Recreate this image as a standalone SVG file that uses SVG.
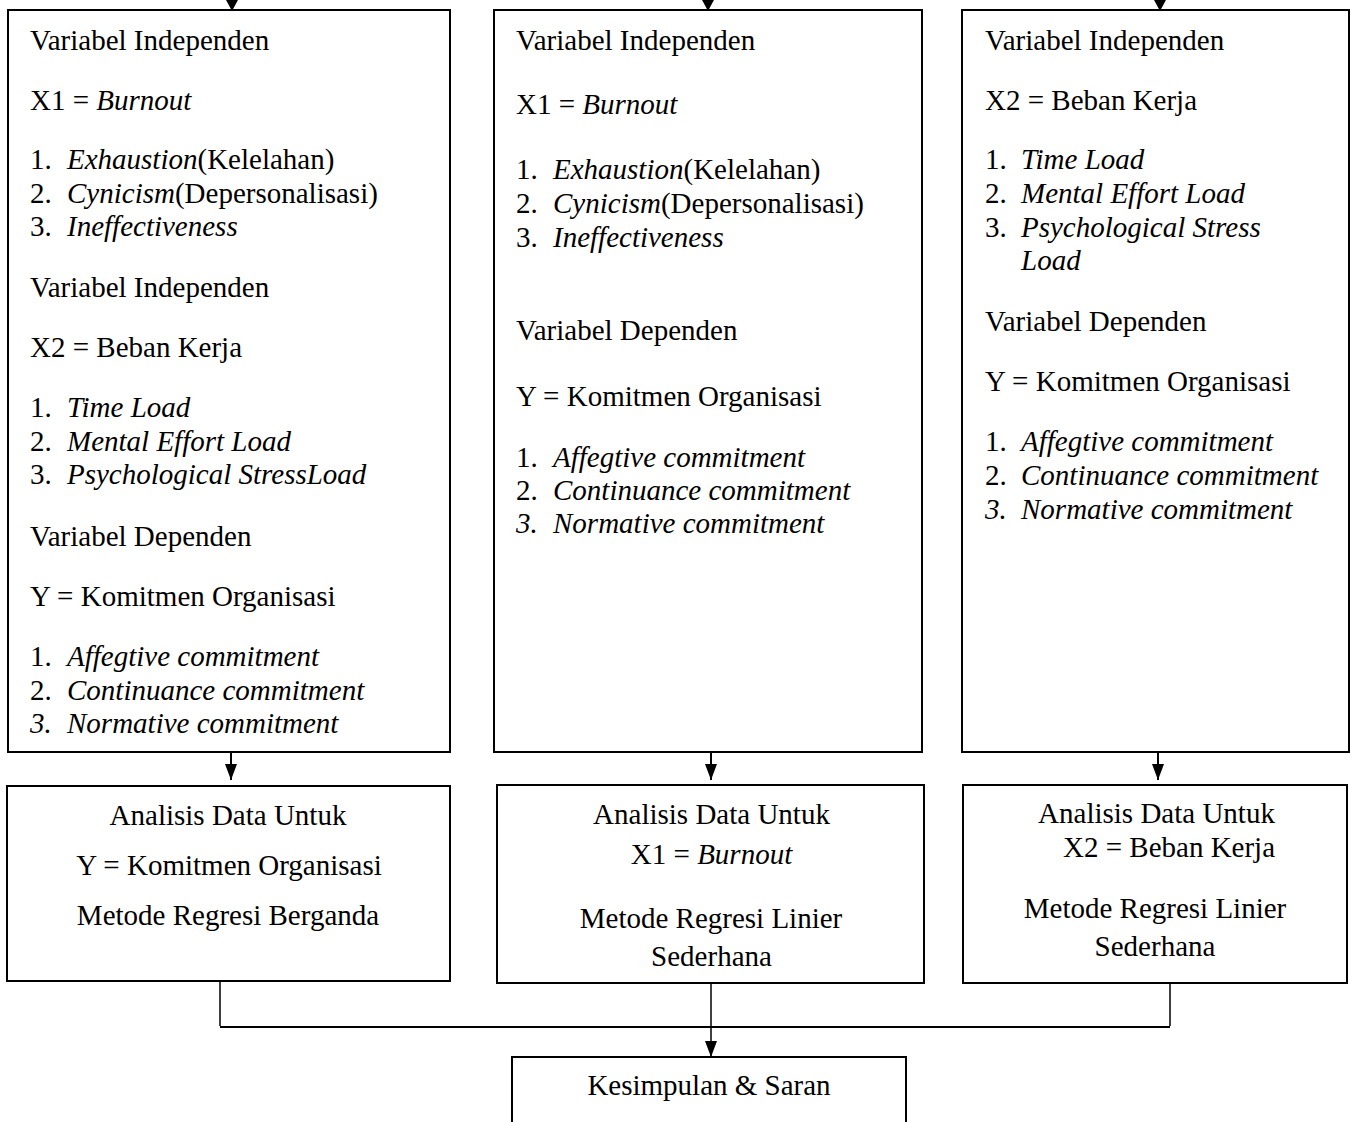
<svg xmlns="http://www.w3.org/2000/svg" width="1352" height="1122" viewBox="0 0 1352 1122">
<defs>
<style>
text{font-family:"Liberation Serif","Times New Roman",serif;font-size:29px;fill:#000}
.i{font-style:italic}
.c{text-anchor:middle}
.box{fill:#fff;stroke:#000;stroke-width:2}
.ln{fill:none;stroke:#000;stroke-width:2}
.thin{fill:none;stroke:#000;stroke-width:1.5}
</style>
<marker id="ah" markerUnits="userSpaceOnUse" markerWidth="16" markerHeight="12" refX="16" refY="6" orient="auto">
<path d="M0,0 L16,6 L0,12 z" fill="#000"/>
</marker>
<marker id="ahs" markerUnits="userSpaceOnUse" markerWidth="12" markerHeight="13" refX="12" refY="6.5" orient="auto">
<path d="M0,0 L12,6.5 L0,13 z" fill="#000"/>
</marker>
</defs>
<rect width="1352" height="1122" fill="#fff"/>

<g id="connectors">
<line class="ln" x1="232" y1="-20" x2="232" y2="11" marker-end="url(#ahs)"/>
<line class="ln" x1="708" y1="-20" x2="708" y2="11" marker-end="url(#ahs)"/>
<line class="ln" x1="1160" y1="-20" x2="1160" y2="11" marker-end="url(#ahs)"/>
<line class="ln" x1="231" y1="752" x2="231" y2="780" marker-end="url(#ah)"/>
<line class="ln" x1="711" y1="752" x2="711" y2="780" marker-end="url(#ah)"/>
<line class="ln" x1="1158" y1="752" x2="1158" y2="780" marker-end="url(#ah)"/>
<line class="thin" x1="220" y1="981" x2="220" y2="1026"/>
<line class="thin" x1="1170" y1="983" x2="1170" y2="1026"/>
<line class="ln" x1="220" y1="1027" x2="1170" y2="1027"/>
<line class="thin" x1="711" y1="983" x2="711" y2="1057" marker-end="url(#ah)"/>
</g>

<g id="box1">
<rect class="box" x="8" y="10" width="442" height="742"/>
<text x="30" y="50">Variabel Independen</text>
<text x="30" y="110">X1 = <tspan class="i">Burnout</tspan></text>
<text x="30" y="169">1.</text><text x="67" y="169"><tspan class="i">Exhaustion</tspan>(Kelelahan)</text>
<text x="30" y="202.5">2.</text><text x="67" y="202.5"><tspan class="i">Cynicism</tspan>(Depersonalisasi)</text>
<text x="30" y="236">3.</text><text class="i" x="67" y="236">Ineffectiveness</text>
<text x="30" y="297">Variabel Independen</text>
<text x="30" y="357">X2 = Beban Kerja</text>
<text x="30" y="417">1.</text><text class="i" x="67" y="417">Time Load</text>
<text x="30" y="451">2.</text><text class="i" x="67" y="451">Mental Effort Load</text>
<text x="30" y="484">3.</text><text class="i" x="67" y="484">Psychological StressLoad</text>
<text x="30" y="546">Variabel Dependen</text>
<text x="30" y="606">Y = Komitmen Organisasi</text>
<text x="30" y="666">1.</text><text class="i" x="67" y="666">Affegtive commitment</text>
<text x="30" y="700">2.</text><text class="i" x="67" y="700">Continuance commitment</text>
<text class="i" x="30" y="733">3.</text><text class="i" x="67" y="733">Normative commitment</text>
</g>

<g id="box2">
<rect class="box" x="494" y="10" width="428" height="742"/>
<text x="516" y="50">Variabel Independen</text>
<text x="516" y="114">X1 = <tspan class="i">Burnout</tspan></text>
<text x="516" y="179">1.</text><text x="553" y="179"><tspan class="i">Exhaustion</tspan>(Kelelahan)</text>
<text x="516" y="213">2.</text><text x="553" y="213"><tspan class="i">Cynicism</tspan>(Depersonalisasi)</text>
<text x="516" y="247">3.</text><text class="i" x="553" y="247">Ineffectiveness</text>
<text x="516" y="340">Variabel Dependen</text>
<text x="516" y="406">Y = Komitmen Organisasi</text>
<text x="516" y="467">1.</text><text class="i" x="553" y="467">Affegtive commitment</text>
<text x="516" y="500">2.</text><text class="i" x="553" y="500">Continuance commitment</text>
<text class="i" x="516" y="533">3.</text><text class="i" x="553" y="533">Normative commitment</text>
</g>

<g id="box3">
<rect class="box" x="962" y="10" width="387" height="742"/>
<text x="985" y="50">Variabel Independen</text>
<text x="985" y="110">X2 = Beban Kerja</text>
<text x="985" y="169">1.</text><text class="i" x="1021" y="169">Time Load</text>
<text x="985" y="203">2.</text><text class="i" x="1021" y="203">Mental Effort Load</text>
<text x="985" y="237">3.</text><text class="i" x="1021" y="237">Psychological Stress</text>
<text class="i" x="1021" y="270">Load</text>
<text x="985" y="331">Variabel Dependen</text>
<text x="985" y="391">Y = Komitmen Organisasi</text>
<text x="985" y="451">1.</text><text class="i" x="1021" y="451">Affegtive commitment</text>
<text x="985" y="485">2.</text><text class="i" x="1021" y="485">Continuance commitment</text>
<text class="i" x="985" y="519">3.</text><text class="i" x="1021" y="519">Normative commitment</text>
</g>

<g id="analysis1">
<rect class="box" x="7" y="786" width="443" height="195"/>
<text class="c" x="228" y="825">Analisis Data Untuk</text>
<text class="c" x="229" y="875">Y = Komitmen Organisasi</text>
<text class="c" x="228" y="925">Metode Regresi Berganda</text>
</g>

<g id="analysis2">
<rect class="box" x="497" y="785" width="427" height="198"/>
<text class="c" x="711.5" y="824">Analisis Data Untuk</text>
<text class="c" x="711.5" y="864">X1 = <tspan class="i">Burnout</tspan></text>
<text class="c" x="711" y="928">Metode Regresi Linier</text>
<text class="c" x="711.5" y="966">Sederhana</text>
</g>

<g id="analysis3">
<rect class="box" x="963" y="785" width="384" height="198"/>
<text class="c" x="1156.5" y="823">Analisis Data Untuk</text>
<text x="1063" y="857">X2 = Beban Kerja</text>
<text class="c" x="1155" y="918">Metode Regresi Linier</text>
<text class="c" x="1155" y="956">Sederhana</text>
</g>

<g id="conclusion">
<rect class="box" x="512" y="1057" width="394" height="100"/>
<text class="c" x="709" y="1095">Kesimpulan &amp; Saran</text>
</g>
</svg>
